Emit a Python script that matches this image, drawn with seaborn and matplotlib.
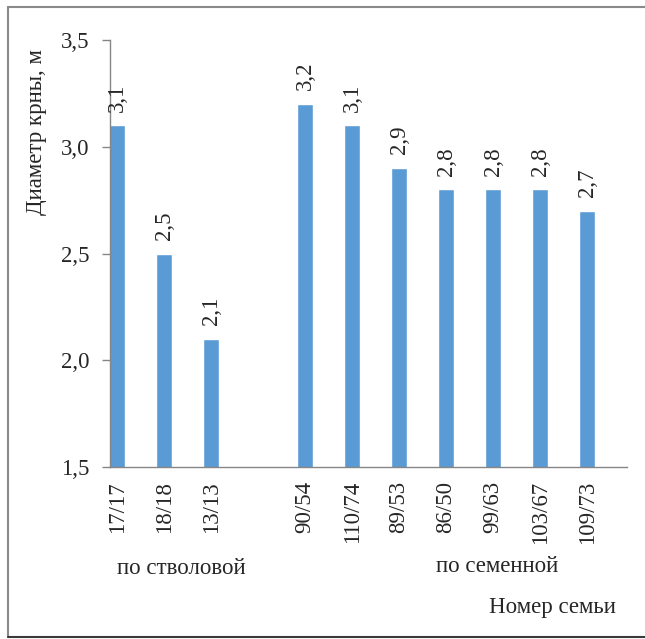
import matplotlib
matplotlib.use("Agg")
import matplotlib.pyplot as plt
from matplotlib.lines import Line2D
import seaborn as sns
import pandas as pd

# Families by propagation type and their mean crown diameter, m
families_trunk = ["17/17", "18/18", "13/13"]
values_trunk = [3.1, 2.5, 2.1]
families_seed = ["90/54", "110/74", "89/53", "86/50", "99/63", "103/67", "109/73"]
values_seed = [3.2, 3.1, 2.9, 2.8, 2.8, 2.8, 2.7]
group_names = ["по стволовой", "по семенной"]
y_ticks = [1.5, 2.0, 2.5, 3.0, 3.5]
y_title = "Диаметр крны, м"
x_title = "Номер семьи"

df = pd.DataFrame({
    "family": families_trunk + families_seed,
    "diameter": values_trunk + values_seed,
})
# an empty slot separates the two groups on the axis
order = families_trunk + [" "] + families_seed

sns.set_theme(style="white")
plt.rcParams["font.family"] = ["Liberation Serif", "DejaVu Serif"]

fig = plt.figure(figsize=(6.45, 6.39), dpi=100, facecolor="white")
ax = fig.add_axes([110 / 645, 1 - 467 / 639, (627 - 110) / 645, (467 - 40) / 639])

sns.barplot(data=df, x="family", y="diameter", order=order, color="#5B9BD5",
            saturation=1, width=0.34, errorbar=None, ax=ax, zorder=2)

ax.set_ylim(1.5, 3.5)
ax.set_xlim(-0.15, 10.85)
ax.set_yticks(y_ticks)
ax.set_yticklabels([f"{v:.1f}".replace(".", ",") for v in y_ticks], fontsize=16.5)
ax.tick_params(axis="y", length=6, width=1, color="#868686", pad=9, left=True)
ax.tick_params(axis="x", length=0, pad=10, labelsize=16.5, labelrotation=90)
ax.set_xlabel("")
ax.set_ylabel("")

for side in ("top", "right"):
    ax.spines[side].set_visible(False)
for side in ("left", "bottom"):
    ax.spines[side].set_color("#868686")
    ax.spines[side].set_linewidth(1)

# value labels above each bar
for patch, val in zip(ax.patches, list(df["diameter"])):
    ax.annotate(f"{val:.1f}".replace(".", ","),
                xy=(patch.get_x() + patch.get_width() / 2, patch.get_height()),
                xytext=(0, 10), textcoords="offset points",
                rotation=90, ha="center", va="bottom", fontsize=16.5)

# group captions and axis titles
fig.text(181 / 645, 1 - 568 / 639, group_names[0], ha="center", va="center", fontsize=16.5)
fig.text(497 / 645, 1 - 567 / 639, group_names[1], ha="center", va="center", fontsize=16.5)
fig.text(552 / 645, 1 - 608 / 639, x_title, ha="center", va="center", fontsize=16.5)
fig.text(37 / 645, 1 - 132 / 639, y_title, ha="center", va="center",
         rotation=90, fontsize=16.5)

# chart frame
fig.add_artist(Line2D([7.5 / 645, 7.5 / 645], [1 - 7 / 639, 1 - 637 / 639],
                      color="#8a8a8a", lw=1.5, transform=fig.transFigure))
fig.add_artist(Line2D([7.5 / 645, 1.0], [1 - 7 / 639, 1 - 7 / 639],
                      color="#8a8a8a", lw=1.5, transform=fig.transFigure))
fig.add_artist(Line2D([7.5 / 645, 1.0], [1 - 637 / 639, 1 - 637 / 639],
                      color="#3a3a3a", lw=1.5, transform=fig.transFigure))

fig.savefig("out.png", dpi=100, facecolor="white")
